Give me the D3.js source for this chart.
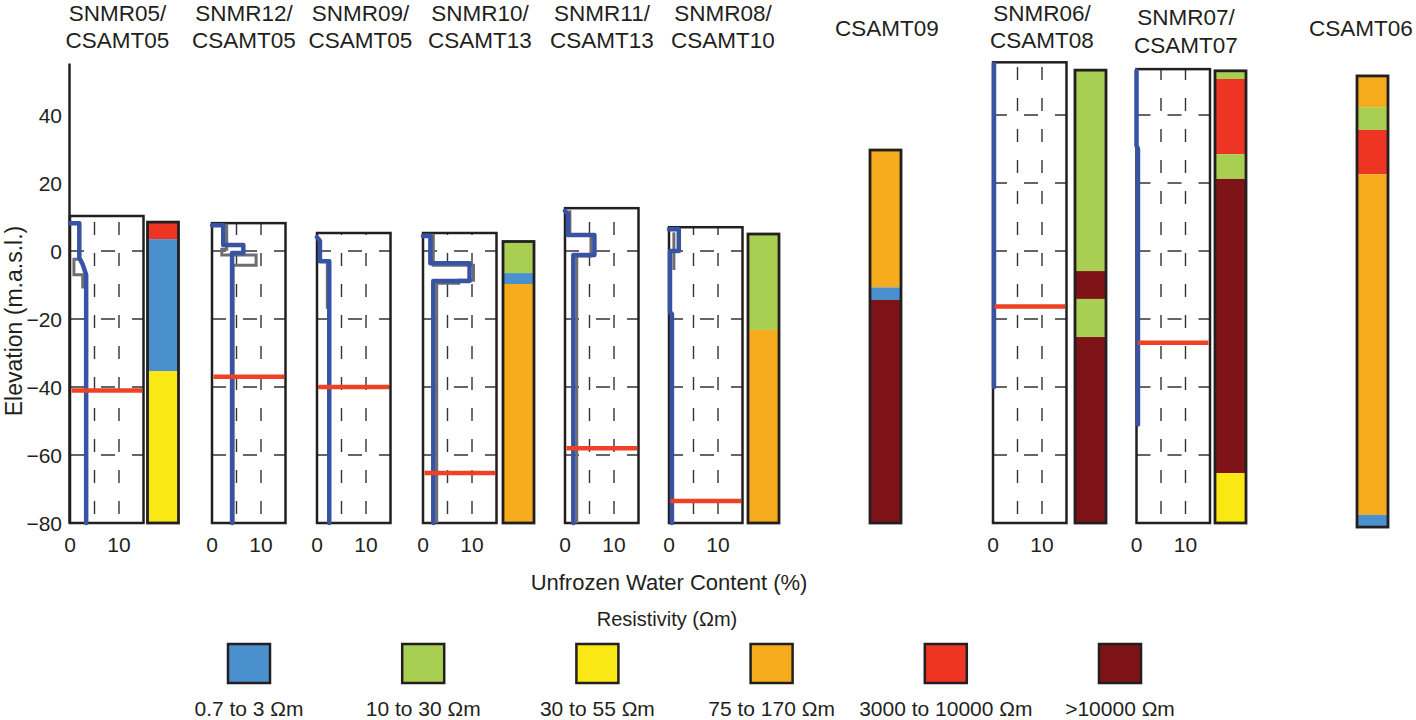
<!DOCTYPE html>
<html><head><meta charset="utf-8">
<script src="https://cdn.jsdelivr.net/npm/d3@7"></script>
<style>
body{margin:0;background:#fff}
text{font-family:"Liberation Sans",Arial,Helvetica,sans-serif;fill:#231f20}
</style>
</head><body>
<svg id="chart" width="1416" height="720"></svg>
<script>
// ---------------- data ----------------
const siteTitles = [["SNMR05/","CSAMT05"],["SNMR12/","CSAMT05"],["SNMR09/","CSAMT05"],["SNMR10/","CSAMT13"],["SNMR11/","CSAMT13"],["SNMR08/","CSAMT10"],["CSAMT09"],["SNMR06/","CSAMT08"],["SNMR07/","CSAMT07"],["CSAMT06"]];
const elevationTicks = [40, 20, 0, -20, -40, -60, -80];
const waterTicks = [0, 10];
const waterGrid = [5, 10];
const elevationGrid = [40, 20, 0, -20, -40, -60];
const resistivityClasses = ["0.7 to 3 Ωm", "10 to 30 Ωm", "30 to 55 Ωm", "75 to 170 Ωm", "3000 to 10000 Ωm", ">10000 Ωm"];

// SNMR soundings
const snmrNames = ["SNMR05", "SNMR12", "SNMR09", "SNMR10", "SNMR11", "SNMR08", "SNMR06", "SNMR07"];
const snmrTop = [10.3, 8.2, 5.3, 5.3, 12.6, 7, 55.5, 53.5];
const snmrBottom = -80;
const permafrostBase = [-41, -37, -40, -65.3, -58, -73.5, -16.3, -27];
// unfrozen water content [%, elevation]
const waterContent = [
  [[0,8.2],[1.9,8.2],[1.9,-2],[2.6,-4],[3.3,-7],[3.3,-80]],
  [[0,7.6],[2.3,7.6],[2.3,1.8],[6.4,1.8],[6.4,-0.6],[4.1,-0.6],[4.1,-80]],
  [[0,4.1],[0.6,3],[0.6,-3],[2.5,-3],[2.5,-80]],
  [[0,4.4],[1.5,4.4],[1.5,-3.6],[9.5,-3.6],[9.5,-8.8],[2.1,-8.8],[2.1,-80]],
  [[0,11.8],[0.6,11],[0.6,4.7],[6,4.7],[6,-1.2],[1.7,-1.2],[1.7,-80]],
  [[0,6.4],[2,6.4],[2,0],[0.2,0],[0.2,-18],[0.6,-18.5],[0.6,-80]],
  [[0.2,55],[0.2,-40]],
  [[0,53],[0,31],[0.3,30],[0.3,-51]]
];
// alternative (grey) water content model
const waterContentAlt = [
  [[2.2,-2.4],[0.8,-2.4],[0.8,-7],[2.6,-7],[2.6,-11]],
  [[0,7.6],[3,7.6],[3,0.5],[2,0.5],[2,-1.2],[9,-1.2],[9,-4.2],[4.3,-4.2],[4.3,-80]],
  [[0.6,-3],[2.1,-3],[2.1,-17]],
  [[0,4.6],[2.1,4.6],[2.1,-4.2],[10.3,-4.2],[10.3,-8.6],[7.3,-8.6],[7.3,-9.5],[2.8,-9.5],[2.8,-80]],
  [[1,12],[1,4.7],[5.3,4.7],[5.3,-1.5],[2.4,-1.5],[2.4,-80]],
  [[1,5.5],[1,-5.6]],
  [],
  []
];

// CSAMT resistivity columns: [top, bottom, class index]
const csamtNames = ["CSAMT05", "CSAMT13", "CSAMT10", "CSAMT09", "CSAMT08", "CSAMT07", "CSAMT06"];
const csamtLayers = [
  [[8.5,3.5,4],[3.5,-35.3,0],[-35.3,-80,2]],
  [[2.8,-6.5,1],[-6.5,-9.7,0],[-9.7,-80,3]],
  [[5,-23.2,1],[-23.2,-80,3]],
  [[29.7,-10.7,3],[-10.7,-14.4,0],[-14.4,-80,5]],
  [[53.2,-5.9,1],[-5.9,-14.1,5],[-14.1,-25.3,1],[-25.3,-80,5]],
  [[53,50.6,1],[50.6,28.5,4],[28.5,21.2,1],[21.2,-65.3,5],[-65.3,-80,2]],
  [[51.5,42.3,3],[42.3,35.6,1],[35.6,22.6,4],[22.6,-77.6,3],[-77.6,-81.2,0]]
];

// ---------------- layout / style ----------------
const classColors = ["#4a90cf", "#a8cf52", "#f9e814", "#f7ac1e", "#ee3524", "#7f1418"];
const layout = {
  snmrLeft: [70, 212, 317, 423, 565, 669, 993, 1136.5],
  boxWidth: 73.5,
  csamtLeft: [147.5, 503, 748, 870, 1075, 1215, 1357],
  colWidth: 31,
  titleX: [117.5, 244, 360.5, 480, 602, 723, 887, 1042, 1186, 1361],
  titleY: [[20.5,48],[20.5,48],[20.5,48],[20.5,48],[20.5,48],[20.5,48],[36],[20.5,48],[25,53],[36]]
};
const ink = "#231f20";

const svg = d3.select("#chart");
const y = d3.scaleLinear().domain([-80, 55.3]).range([523, 63]);

// titles
siteTitles.forEach((lines, i) => {
  const t = svg.append("text").attr("text-anchor", "middle").style("font-size", "22.5px");
  lines.forEach((s, j) => t.append("tspan").attr("x", layout.titleX[i]).attr("y", layout.titleY[i][j]).text(s));
});

// y axis
const yAxis = svg.append("g").attr("transform", "translate(69,0)")
  .call(d3.axisLeft(y).tickValues(elevationTicks).tickSize(0).tickPadding(7));
yAxis.select(".domain").attr("stroke", ink).attr("stroke-width", 2.5);
yAxis.selectAll("text").style("font-size", "21px").attr("fill", ink).attr("dy", "0.36em");

svg.append("text").attr("transform", "translate(22," + ((y(-80) + y(55.3)) / 2 + 28) + ") rotate(-90)")
  .attr("text-anchor", "middle").style("font-size", "23px").text("Elevation (m.a.s.l.)");

// SNMR panels
const P = 31, D = 13, yRef = 253;
snmrNames.forEach((name, i) => {
  const x0 = layout.snmrLeft[i];
  const x = d3.scaleLinear().domain([0, 15]).range([x0, x0 + layout.boxWidth]);
  const g = svg.append("g").attr("class", "snmr " + name);
  const yTop = y(snmrTop[i]), yBot = y(snmrBottom);
  g.append("rect").attr("x", x(0)).attr("y", yTop).attr("width", x(15) - x(0)).attr("height", yBot - yTop).attr("fill", "#fff");
  // vertical gridlines
  waterGrid.forEach(v => {
    const d = (((yRef - yTop) % P) + P) % P;
    g.append("line").attr("x1", x(v)).attr("x2", x(v)).attr("y1", yTop).attr("y2", yBot)
      .attr("stroke", "#333").attr("stroke-width", 1.4)
      .attr("stroke-dasharray", D + "," + (P - D)).attr("stroke-dashoffset", (P - d) % P);
  });
  // horizontal gridlines
  elevationGrid.filter(e => e < snmrTop[i] - 1).forEach(e => {
    g.append("line").attr("x1", x(0)).attr("x2", x(15)).attr("y1", y(e)).attr("y2", y(e))
      .attr("stroke", "#333").attr("stroke-width", 1.4).attr("stroke-dasharray", "14,17");
  });
  g.append("rect").attr("x", x(0)).attr("y", yTop).attr("width", x(15) - x(0)).attr("height", yBot - yTop)
    .attr("fill", "none").attr("stroke", ink).attr("stroke-width", 2.5);
  const line = d3.line().x(d => x(d[0])).y(d => y(d[1]));
  if (waterContentAlt[i].length)
    g.append("path").attr("d", line(waterContentAlt[i])).attr("fill", "none").attr("stroke", "#6d6e70").attr("stroke-width", 3);
  g.append("path").attr("d", line(waterContent[i])).attr("fill", "none").attr("stroke", "#3953a4")
    .attr("stroke-width", 4.5).attr("stroke-linecap", "round").attr("stroke-linejoin", "round");
  g.append("line").attr("x1", x(0) + 1.5).attr("x2", x(15) - 1.5).attr("y1", y(permafrostBase[i])).attr("y2", y(permafrostBase[i]))
    .attr("stroke", "#ef4123").attr("stroke-width", 4.5);
  // x axis labels
  waterTicks.forEach(v => {
    g.append("text").attr("x", x(v)).attr("y", 552).attr("text-anchor", "middle").style("font-size", "21px").text(v);
  });
});

// CSAMT columns
csamtNames.forEach((name, i) => {
  const xl = layout.csamtLeft[i], w = layout.colWidth;
  const g = svg.append("g").attr("class", "csamt " + name);
  const layers = csamtLayers[i];
  g.selectAll("rect.layer").data(layers).join("rect").attr("class", "layer")
    .attr("x", xl).attr("width", w)
    .attr("y", d => y(d[0])).attr("height", d => y(d[1]) - y(d[0]))
    .attr("fill", d => classColors[d[2]]);
  const top = layers[0][0], bot = layers[layers.length - 1][1];
  g.append("rect").attr("x", xl).attr("y", y(top)).attr("width", w).attr("height", y(bot) - y(top))
    .attr("fill", "none").attr("stroke", ink).attr("stroke-width", 2.8);
});

// axis titles
svg.append("text").attr("x", 669).attr("y", 590).attr("text-anchor", "middle").style("font-size", "22px").text("Unfrozen Water Content (%)");
svg.append("text").attr("x", 667).attr("y", 626).attr("text-anchor", "middle").style("font-size", "20px").text("Resistivity (Ωm)");

// legend
const lx = d3.scalePoint().domain(resistivityClasses).range([249, 1120]);
const lg = svg.append("g").attr("class", "legend");
lg.selectAll("rect").data(resistivityClasses).join("rect")
  .attr("x", d => lx(d) - 21).attr("y", 644).attr("width", 42).attr("height", 39)
  .attr("fill", (d, i) => classColors[i]).attr("stroke", ink).attr("stroke-width", 2.5);
lg.selectAll("text").data(resistivityClasses).join("text")
  .attr("x", d => lx(d)).attr("y", 716).attr("text-anchor", "middle").style("font-size", "21px").text(d => d);
</script>
</body></html>
